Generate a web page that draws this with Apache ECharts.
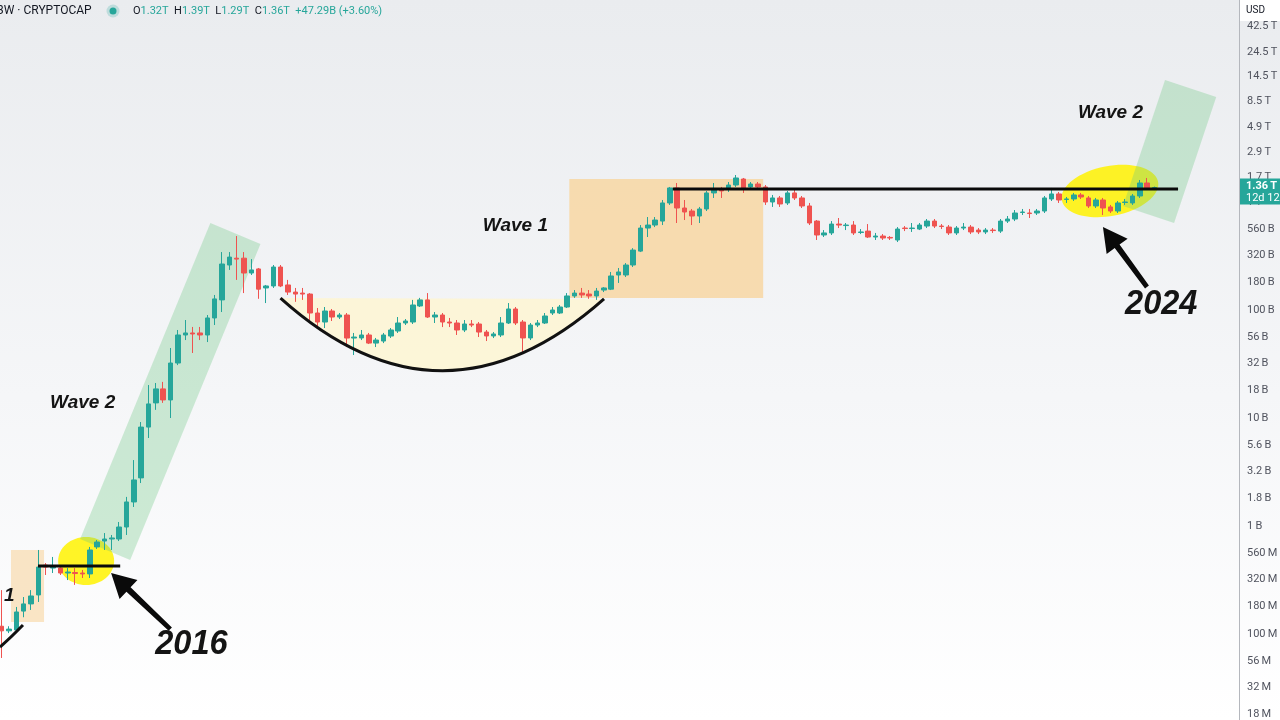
<!DOCTYPE html>
<html>
<head>
<meta charset="utf-8">
<script src="https://cdn.jsdelivr.net/npm/echarts@6.0.0/dist/echarts.min.js"></script>
<style>
html,body{margin:0;padding:0;overflow:hidden;background:#ffffff;}
#chart{width:1280px;height:720px;}
</style>
</head>
<body>
<div id="chart"></div>
<script>
// ---------- DATA (values in billions USD, 3-week candles) ----------
const startDate = '2015-08-03';
const stepDays = 21;
const slotCount = 169;
const unit = 1e9;

const opens = [0.118,0.107,0.109,0.163,0.19,0.23,0.435,0.408,0.408,0.367,
 0.371,0.367,0.36,0.64,0.726,0.758,0.758,0.979,1.67,2.79,
 8.24,13.8,18.6,14.7,32.3,58.7,61.3,61.3,58.7,84.4,
 124,261,302,302,220,240,160,167,250,170.6,
 146.6,143.5,140.5,93.8,77.4,97.9,86.1,89.9,55.0,55.1,
 58.7,49.4,51.6,57.4,63.9,75.8,77.4,109,124,86.1,
 89.9,77.4,75.8,65.3,74.2,74.2,62.5,57.5,58.7,75.8,
 102.2,77.4,55.1,72.6,75.8,93.8,93.8,106.6,134.9,143.5,
 140.5,134.9,153,156,211,211,261,351,574,612,
 666,980,1349,880,825,742,862,1213,1320,1320,
 1437,1633,1378,1468,1378,1000,1090,980,1213,1090,
 919,666,495,517,625,605,612,522,538,474,
 484,470,445,574,568,562,599,666,599,586,
 517,574,586,550,528,550,538,666,696,800,
 791,791,825,1067,1187,1055,1067,1162,1090,919,
 1044,900,825,990,980,1137,1500,1320];

const closes = [0.107,0.111,0.16,0.19,0.225,0.417,0.417,0.417,0.367,0.375,
 0.363,0.36,0.6,0.711,0.758,0.775,0.979,1.67,2.67,8.24,
 13.5,18.6,14.7,32.3,58.7,61.3,60.0,58.7,84.4,126.7,
 266.6,309,296,220,235,156,167,250,167,146.6,
 140.5,140.5,93.8,77.4,97.9,86.1,89.9,55.0,56.2,58.7,
 49.4,52.7,58.7,65.3,75.8,79.1,111.3,124,86.1,89.9,
 77.4,75.8,65.3,74.2,72.6,62.5,57.5,60.0,75.8,102.2,
 75.8,55.1,72.6,75.8,88.0,100,106.6,134.9,143.5,137.8,
 134.9,149.8,160,206.6,225,261,359,574,612,681,
 980,1349,880,808,742,862,1213,1292,1265,1437,
 1669,1349,1468,1378,1000,1090,959,1213,1090,919,
 639,495,517,625,612,612,517,528,474,484,
 464,464,562,568,574,612,666,599,593,517,
 574,586,528,528,550,544,666,696,791,808,
 782,825,1090,1187,1044,1067,1162,1113,919,1044,
 880,825,980,1000,1137,1500,1349,1360];

const lows = [0.060,0.102,0.104,0.143,0.167,0.198,0.352,0.367,0.352,0.316,
 0.285,0.33,0.33,0.613,0.6,0.6,0.726,0.826,1.5,2.5,
 6.53,11.9,13.8,10.0,30.9,52.7,40.0,52.7,50.5,72.6,
 95.8,235,190,143.5,211,127,116,160,163,137.8,
 119,124,80.8,69.5,68.1,79.1,82.5,45.4,38.3,52.7,
 48.4,45.4,49.4,55.1,61.3,72.6,74.2,106.6,84.4,75.8,
 69.5,69.5,58.7,62.5,69.5,56.2,51.6,55.0,56.2,74.2,
 72.6,40.0,52.7,69.5,74.2,89.9,91.8,104.4,129.5,129.5,
 127,124,146.6,153,178,202,250,344,474,586,
 612,939,639,681,612,639,825,1090,1090,1238,
 1378,1213,1292,1292,939,900,900,939,1044,880,
 612,445,474,495,574,550,495,505,464,445,
 445,445,426,538,528,550,574,574,562,495,
 495,550,505,505,505,517,517,639,666,758,
 711,758,791,1022,980,980,1022,1067,880,880,
 758,791,791,939,939,1090,1292,1290];

const highs = [0.255,0.118,0.178,0.22,0.255,0.6,0.454,0.517,0.426,0.408,
 0.408,0.392,0.64,0.742,0.861,0.826,1.09,1.86,4.08,9.18,
 20.2,21.1,21.6,44.5,65.3,80.8,69.7,69.7,89.9,137.8,
 344,344,484,344,296,245,170.6,261,261,190,
 160,160,143.5,104.4,106.6,102.2,93.8,93.8,61.3,65.3,
 61.3,55.1,61.3,68.1,86.1,82.5,124,129.5,143.5,95.8,
 93.8,84.4,80.8,80.8,80.8,77.4,65.3,62.5,86.1,116,
 106.6,80.8,75.8,80.8,93.8,106.6,111.3,143.5,153,160,
 153,160,163,225,245,272,374,612,726,726,
 1044,1378,1500,1044,862,900,1265,1500,1378,1531,
 1778,1669,1531,1531,1437,1162,1137,1265,1292,1137,
 980,681,550,666,711,639,666,562,625,517,
 505,484,586,599,639,639,696,696,625,612,
 599,639,612,574,574,574,696,742,843,862,
 862,862,1137,1349,1238,1113,1213,1213,1137,1090,
 1090,939,1022,1067,1187,1599,1669,1390];

const tickValues = [1.8e7,3.2e7,5.6e7,1e8,1.8e8,3.2e8,5.6e8,1e9,1.8e9,3.2e9,5.6e9,1e10,1.8e10,3.2e10,5.6e10,1e11,1.8e11,3.2e11,5.6e11,1e12,1.7e12,2.9e12,4.9e12,8.5e12,1.45e13,2.45e13,4.25e13];
const tickLabels = ['18\u2009M','32\u2009M','56\u2009M','100\u2009M','180\u2009M','320\u2009M','560\u2009M','1\u2009B','1.8\u2009B','3.2\u2009B','5.6\u2009B','10\u2009B','18\u2009B','32\u2009B','56\u2009B','100\u2009B','180\u2009B','320\u2009B','560\u2009B','1\u2009T','1.7\u2009T','2.9\u2009T','4.9\u2009T','8.5\u2009T','14.5\u2009T','24.5\u2009T','42.5\u2009T'];
const yMin = 1.599e7;
const yMax = 7.42e13;

// header (OHLC of last candle)
const headerSymbol = '3W \u00B7 CRYPTOCAP';
const headerOHLC = [['O','1.32T'],['H','1.39T'],['L','1.29T'],['C','1.36T']];
const headerChange = '+47.29B (+3.60%)';
const priceLabel = ['1.36\u2009T','12d 12h'];

// annotations, in data coordinates [candle index, value in billions]
const boxLeft = [[1.27, 0.129],[5.77, 0.6]];
const boxWave1 = [[77.3, 129],[103.7, 1633]];
const channelLeft = [[28.42, 639],[35.24, 408],[17.5, 0.484],[10.68, 0.758]];
const channelRight = [[158.43, 13480],[165.4, 9380],[159.66, 639],[152.7, 918]];
const cupCurve = [[37.97, 129],[59.93, 5.87],[82.03, 126.5]];
const smallArc = [[-0.23, 0.0758],[1.13, 0.0909],[2.9, 0.121]];
const levelLeft = [[4.95, 0.426],[16.14, 0.426]];
const levelRight = [[91.4, 1319],[160.2, 1319]];
const spotLeft = [11.5, 0.474];
const spotRight = [150.93, 1264];
const arrowLeft = [[22.96, 0.111],[14.9, 0.367]];
const arrowRight = [[155.97, 163.3],[149.97, 587]];
const noteTexts = [
  {text:'Wave 2', at:[6.59, 13.77], kind:'wave'},
  {text:'Wave 1', at:[65.53, 599.5], kind:'wave'},
  {text:'Wave 2', at:[146.56, 6670], kind:'wave'},
  {text:'1', at:[0.31, 0.225], kind:'wave'},
  {text:'2016', at:[20.91, 0.0808], kind:'year'},
  {text:'2024', at:[152.98, 113.6], kind:'year'}
];

// ---------- BUILD ----------
const categories = [];
for (let k = 0; k < slotCount; k++) {
  const d = new Date(Date.parse(startDate + 'T00:00:00Z') + k * stepDays * 86400000);
  categories.push(d.toISOString().slice(0, 10));
}
const candles = opens.map((o, k) => [o * unit, closes[k] * unit, lows[k] * unit, highs[k] * unit]);

const fmtTick = v => {
  let best = 0, bd = Infinity;
  tickValues.forEach((t, k) => { const d = Math.abs(Math.log10(t) - Math.log10(v)); if (d < bd) { bd = d; best = k; } });
  return tickLabels[best];
};

const UP = '#26a69a', DOWN = '#ef5350';
const chart = echarts.init(document.getElementById('chart'), null, {renderer: 'canvas', width: 1280, height: 720});
chart.setOption({
  animation: false,
  grid: {left: -2, right: 41, top: 0, bottom: 0, containLabel: false, outerBoundsMode: 'none'},
  xAxis: {type: 'category', data: categories, boundaryGap: true, show: false},
  yAxis: {
    type: 'log', logBase: 10, position: 'right', min: yMin, max: yMax,
    axisLine: {show: true, lineStyle: {color: '#b4b7bd', width: 1}},
    axisTick: {show: false},
    splitLine: {show: false},
    axisLabel: {customValues: tickValues, formatter: fmtTick, color: '#50535e', fontSize: 11,
      fontFamily: 'Roboto, "DejaVu Sans", sans-serif', margin: 8, showMinLabel: true, showMaxLabel: true}
  },
  series: [{
    type: 'candlestick', data: candles, barWidth: 5, z: 5,
    itemStyle: {color: UP, color0: DOWN, borderColor: UP, borderColor0: DOWN, borderColorDoji: UP, borderWidth: 1}
  }]
});

const P = pt => {
  const i = pt[0], v = pt[1] * unit;
  const i0 = Math.floor(i), f = i - i0;
  const a = chart.convertToPixel({gridIndex: 0}, [i0, v]);
  const b = chart.convertToPixel({gridIndex: 0}, [i0 + 1, v]);
  return [a[0] + f * (b[0] - a[0]), a[1]];
};
const rectPts = c => { const a = P(c[0]), b = P(c[1]); return [[a[0], a[1]], [b[0], a[1]], [b[0], b[1]], [a[0], b[1]]]; };
const quadPts = (p0, c, p2, n) => {
  const out = [];
  for (let k = 0; k <= n; k++) { const t = k / n, u = 1 - t;
    out.push([u*u*p0[0] + 2*u*t*c[0] + t*t*p2[0], u*u*p0[1] + 2*u*t*c[1] + t*t*p2[1]]); }
  return out;
};
const arrowPts = (tail, tip, headLen, headHalf, shaftW) => {
  const dx = tip[0] - tail[0], dy = tip[1] - tail[1], L = Math.hypot(dx, dy);
  const ux = dx / L, uy = dy / L, nx = -uy, ny = ux;
  const bx = tip[0] - ux * headLen, by = tip[1] - uy * headLen;
  const s = shaftW / 2;
  return [[tail[0] + nx*s*0.8, tail[1] + ny*s*0.8], [bx + nx*s, by + ny*s], [bx + nx*headHalf, by + ny*headHalf],
    [tip[0], tip[1]], [bx - nx*headHalf, by - ny*headHalf], [bx - nx*s, by - ny*s], [tail[0] - nx*s*0.8, tail[1] - ny*s*0.8]];
};

const els = [];
// background
els.push({type: 'rect', z: -100, silent: true, shape: {x: 0, y: 0, width: 1280, height: 720},
  style: {fill: new echarts.graphic.LinearGradient(0, 0, 0, 1, [{offset: 0, color: '#eaecef'}, {offset: 0.55, color: '#f5f6f8'}, {offset: 1, color: '#ffffff'}])}});
// orange boxes
els.push({type: 'polygon', z: 1, silent: true, shape: {points: rectPts(boxLeft)}, style: {fill: 'rgba(248,214,160,0.6)'}});
els.push({type: 'polygon', z: 1, silent: true, shape: {points: rectPts(boxWave1)}, style: {fill: 'rgba(248,214,160,0.82)'}});
// cup fill
const c0 = P(cupCurve[0]), c1 = P(cupCurve[1]), c2 = P(cupCurve[2]);
els.push({type: 'polygon', z: 1, silent: true, shape: {points: quadPts(c0, c1, c2, 48)}, style: {fill: 'rgba(255,246,205,0.75)'}});
// yellow ellipses
const sl = P(spotLeft), sr = P(spotRight);
els.push({type: 'ellipse', z: 1, silent: true, x: sl[0], y: sl[1], shape: {cx: 0, cy: 0, rx: 28, ry: 24}, style: {fill: 'rgba(255,242,0,0.85)'}});
els.push({type: 'ellipse', z: 1, silent: true, x: sr[0], y: sr[1], rotation: 0.19, shape: {cx: 0, cy: 0, rx: 49, ry: 25}, style: {fill: 'rgba(255,242,0,0.85)'}});
// green channels
els.push({type: 'polygon', z: 2, silent: true, shape: {points: channelLeft.map(P)}, style: {fill: 'rgba(110,200,130,0.32)'}});
els.push({type: 'polygon', z: 2, silent: true, shape: {points: channelRight.map(P)}, style: {fill: 'rgba(110,200,130,0.32)'}});
// cup curve + small arc
els.push({type: 'bezierCurve', z: 100, silent: true, shape: {x1: c0[0], y1: c0[1], cpx1: c1[0], cpy1: c1[1], x2: c2[0], y2: c2[1]},
  style: {stroke: '#111', lineWidth: 3, fill: null}});
const a0 = P(smallArc[0]), a1 = P(smallArc[1]), a2 = P(smallArc[2]);
els.push({type: 'bezierCurve', z: 100, silent: true, shape: {x1: a0[0], y1: a0[1], cpx1: a1[0], cpy1: a1[1], x2: a2[0], y2: a2[1]},
  style: {stroke: '#111', lineWidth: 3, fill: null}});
// level lines
[levelLeft, levelRight].forEach(l => { const p = P(l[0]), q = P(l[1]);
  els.push({type: 'line', z: 100, silent: true, shape: {x1: p[0], y1: p[1], x2: q[0], y2: q[1]}, style: {stroke: '#0a0a0a', lineWidth: 3}}); });
// arrows
[arrowLeft, arrowRight].forEach(a => {
  els.push({type: 'polygon', z: 100, silent: true, shape: {points: arrowPts(P(a[0]), P(a[1]), 24, 13, 6)}, style: {fill: '#0a0a0a'}});
});
// texts
noteTexts.forEach(t => {
  const p = P(t.at);
  const year = t.kind === 'year';
  els.push({type: 'text', z: 110, silent: true, x: p[0], y: p[1], scaleX: year ? 0.93 : 1,
    style: {text: t.text, font: year ? 'italic bold 35px "Liberation Sans", Arial, sans-serif' : 'italic bold 19px "Liberation Sans", Arial, sans-serif',
      fill: '#141414', align: 'left', verticalAlign: 'middle', textAlign: 'left', textVerticalAlign: 'middle'}});
});
// header
els.push({type: 'text', z: 120, silent: true, x: -3, y: 11,
  style: {text: headerSymbol, font: '12px Roboto, sans-serif', fill: '#131722', align: 'left', verticalAlign: 'middle'}});
els.push({type: 'circle', z: 120, silent: true, shape: {cx: 113, cy: 11, r: 6.5}, style: {fill: 'rgba(38,166,154,0.22)'}});
els.push({type: 'circle', z: 121, silent: true, shape: {cx: 113, cy: 11, r: 3.5}, style: {fill: UP}});
const ohlcText = headerOHLC.map(h => '{k|' + h[0] + '}{v|' + h[1] + '}').join('  ') + '  {v|' + headerChange + '}';
els.push({type: 'text', z: 120, silent: true, x: 133, y: 11,
  style: {text: ohlcText, align: 'left', verticalAlign: 'middle', font: '11px Roboto, sans-serif',
    rich: {k: {fill: '#131722', font: '11px Roboto, sans-serif'}, v: {fill: UP, font: '11px Roboto, sans-serif'}}}});
// right scale: currency box and price label
els.push({type: 'rect', z: 120, silent: true, shape: {x: 1240, y: 0, width: 40, height: 21}, style: {fill: '#ffffff'}});
els.push({type: 'text', z: 121, silent: true, x: 1246, y: 10.5,
  style: {text: 'USD', font: '10px Roboto, sans-serif', fill: '#131722', align: 'left', verticalAlign: 'middle'}});
const py = chart.convertToPixel({yAxisIndex: 0}, closes[closes.length - 1] * unit);
els.push({type: 'rect', z: 120, silent: true, shape: {x: 1240, y: py - 9, width: 40, height: 26}, style: {fill: UP}});
els.push({type: 'text', z: 121, silent: true, x: 1246, y: py - 1.5,
  style: {text: priceLabel[0], font: 'bold 11px Roboto, sans-serif', fill: '#ffffff', align: 'left', verticalAlign: 'middle'}});
els.push({type: 'text', z: 121, silent: true, x: 1246, y: py + 10.5,
  style: {text: priceLabel[1], font: '11px Roboto, sans-serif', fill: '#ffffff', align: 'left', verticalAlign: 'middle'}});

chart.setOption({graphic: {elements: els}});
</script>
</body>
</html>
